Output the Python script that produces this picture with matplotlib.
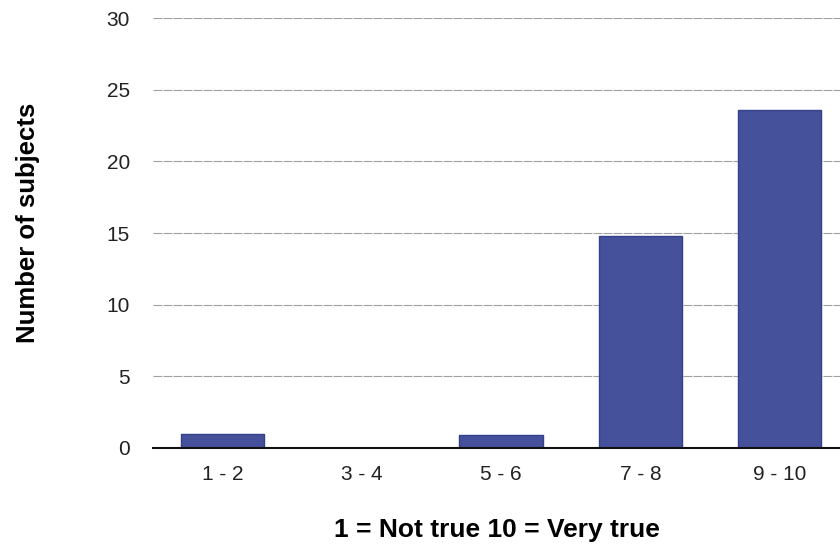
import matplotlib.pyplot as plt

categories = ['1 - 2', '3 - 4', '5 - 6', '7 - 8', '9 - 10']
subjects = [1.0, 0.0, 0.9, 14.8, 23.6]
yticks = [0, 5, 10, 15, 20, 25, 30]

plt.rcParams['font.family'] = ['Liberation Sans', 'DejaVu Sans']

fig = plt.figure(figsize=(8.4, 5.51), dpi=100)
ax = fig.add_axes([0.182, 0.187, 0.829, 0.780])

x = range(len(categories))
ax.bar(x, subjects, width=0.6, color='#46519c', edgecolor='#33408c', linewidth=1, zorder=3)

ax.set_xlim(-0.5, 4.5)
ax.set_ylim(0, 30)
ax.set_xticks(list(x))
ax.set_xticklabels(categories, fontsize=15, color='#222222')
ax.set_yticks(yticks)
ax.set_yticklabels([str(t) for t in yticks], fontsize=15, color='#222222')
ax.tick_params(axis='both', length=0)
ax.tick_params(axis='x', pad=12)
ax.tick_params(axis='y', pad=16.5)

ax.grid(axis='y', color='#a0a0a0', linewidth=0.8, linestyle=(0, (8, 1)), zorder=0)
for s in ['top', 'right', 'left']:
    ax.spines[s].set_visible(False)
ax.spines['bottom'].set_color('#111111')
ax.spines['bottom'].set_linewidth(1.5)
ax.spines['bottom'].set_zorder(4)

fig.text(0.591, 0.0254, '1 = Not true 10 = Very true', fontsize=19, fontweight='bold',
         ha='center', va='baseline')
fig.text(0.033, 0.595, 'Number of subjects', fontsize=18.5, fontweight='bold',
         rotation=90, ha='center', va='center')

fig.savefig('out.png', dpi=100)
